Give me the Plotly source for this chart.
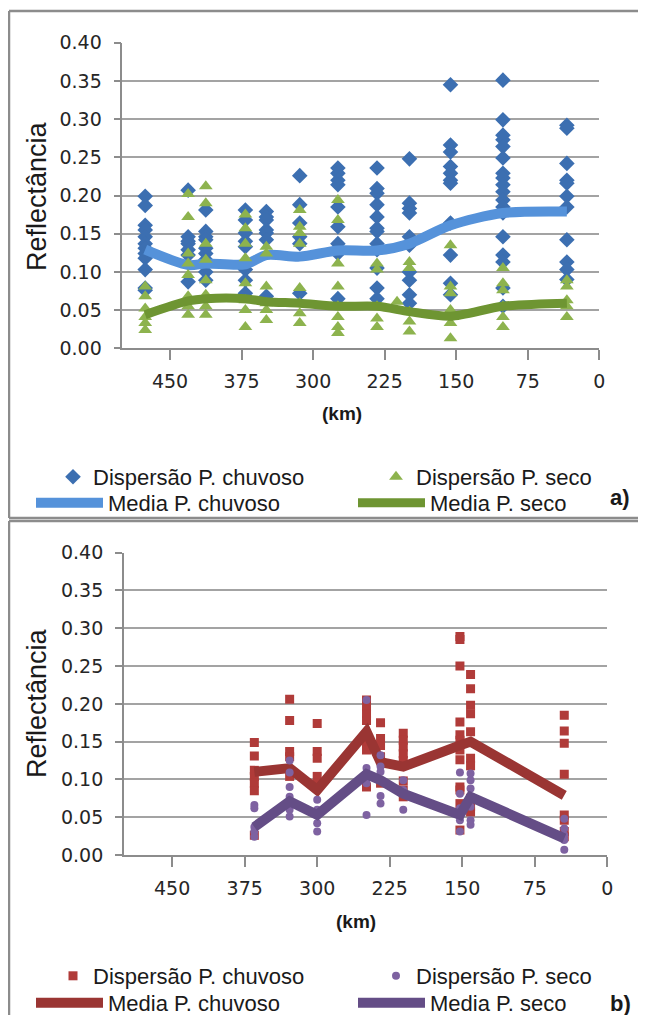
import plotly.graph_objects as go

# the page body adds an 8 px margin on every side; keep the figure inside the window
OFF = 8
W, H = 646 - 2 * OFF, 1023 - 2 * OFF

# ---------------- panel a) data ----------------
a_stations = [476, 431, 412.5, 371, 349, 314, 274, 233, 212, 199, 156, 101, 34]
a_chuvoso = [
    [0.199, 0.187, 0.161, 0.155, 0.146, 0.137, 0.131, 0.124, 0.118, 0.103, 0.079, 0.076],
    [0.207, 0.146, 0.140, 0.137, 0.129, 0.122, 0.087],
    [0.181, 0.153, 0.146, 0.142, 0.131, 0.124, 0.116, 0.100, 0.089],
    [0.181, 0.168, 0.151, 0.140, 0.133, 0.103, 0.089, 0.072],
    [0.179, 0.172, 0.168, 0.155, 0.151, 0.142, 0.068],
    [0.226, 0.188, 0.164, 0.146, 0.137, 0.072],
    [0.236, 0.229, 0.220, 0.214, 0.185, 0.159, 0.137, 0.124, 0.065],
    [0.236, 0.209, 0.203, 0.188, 0.172, 0.157, 0.153, 0.137, 0.129, 0.105, 0.079, 0.065],
    [],
    [0.248, 0.190, 0.183, 0.177, 0.146, 0.135, 0.100, 0.089, 0.070, 0.059],
    [0.345, 0.266, 0.257, 0.238, 0.229, 0.220, 0.216, 0.164, 0.122, 0.085, 0.070],
    [0.351, 0.299, 0.279, 0.273, 0.264, 0.249, 0.229, 0.223, 0.214, 0.205, 0.194, 0.185,
     0.177, 0.146, 0.122, 0.113, 0.079, 0.055],
    [0.292, 0.288, 0.242, 0.220, 0.216, 0.199, 0.185, 0.142, 0.113, 0.103, 0.090],
]
a_seco = [
    [0.081, 0.068, 0.052, 0.041, 0.033, 0.024],
    [0.202, 0.172, 0.124, 0.111, 0.096, 0.068, 0.055, 0.044],
    [0.212, 0.190, 0.137, 0.116, 0.089, 0.070, 0.055, 0.044],
    [0.175, 0.157, 0.137, 0.118, 0.085, 0.063, 0.050, 0.028],
    [0.133, 0.124, 0.081, 0.059, 0.050, 0.037],
    [0.181, 0.159, 0.151, 0.137, 0.079, 0.059, 0.046, 0.033],
    [0.194, 0.168, 0.111, 0.081, 0.055, 0.041, 0.028, 0.020],
    [0.111, 0.103, 0.055, 0.039, 0.028],
    [0.061],
    [0.113, 0.105, 0.048, 0.035, 0.022],
    [0.135, 0.081, 0.072, 0.050, 0.033, 0.013],
    [0.105, 0.085, 0.076, 0.055, 0.041, 0.028],
    [0.089, 0.081, 0.063, 0.055, 0.041],
]
a_mean_km = [476, 431, 412.5, 371, 349, 314, 274, 233, 199, 156, 101, 34]
a_mean_chuvoso = [0.129, 0.109, 0.111, 0.110, 0.122, 0.120, 0.128, 0.128, 0.137, 0.161, 0.177, 0.179]
a_mean_seco = [0.044, 0.062, 0.065, 0.065, 0.061, 0.059, 0.055, 0.055, 0.048, 0.042, 0.055, 0.059]

# ---------------- panel b) data ----------------
b_stations = [365, 328.5, 300, 249, 234.5, 211, 152.4, 141.4, 44.5]
b_chuvoso = [
    [0.149, 0.131, 0.112, 0.104, 0.095, 0.085, 0.026],
    [0.206, 0.178, 0.137, 0.130, 0.104],
    [0.174, 0.137, 0.128, 0.104, 0.095],
    [0.205, 0.196, 0.187, 0.178, 0.148, 0.139, 0.104, 0.090],
    [0.175, 0.154, 0.145, 0.130, 0.095],
    [0.161, 0.152, 0.143, 0.134, 0.125, 0.098, 0.086, 0.077],
    [0.289, 0.285, 0.250, 0.176, 0.159, 0.152, 0.139, 0.126, 0.090, 0.086, 0.068, 0.033],
    [0.239, 0.220, 0.198, 0.187, 0.163, 0.128, 0.118, 0.075, 0.064, 0.057],
    [0.185, 0.164, 0.148, 0.107, 0.053, 0.046, 0.031, 0.024],
]
b_seco = [
    [0.066, 0.062, 0.037, 0.031, 0.024],
    [0.125, 0.109, 0.090, 0.077, 0.064, 0.060, 0.051],
    [0.073, 0.060, 0.042, 0.031],
    [0.205, 0.115, 0.104, 0.095, 0.053],
    [0.132, 0.117, 0.110, 0.078, 0.068],
    [0.099, 0.086, 0.060],
    [0.109, 0.081, 0.062, 0.055, 0.046, 0.031],
    [0.108, 0.099, 0.088, 0.064, 0.046, 0.040],
    [0.048, 0.035, 0.026, 0.020, 0.007],
]
b_mean_chuvoso = [0.110, 0.115, 0.086, 0.163, 0.123, 0.117, 0.145, 0.150, 0.079]
b_mean_seco = [0.037, 0.071, 0.053, 0.107, 0.099, 0.081, 0.053, 0.077, 0.022]

x_ticks = [450, 375, 300, 225, 150, 75, 0]
y_ticks = [0.00, 0.05, 0.10, 0.15, 0.20, 0.25, 0.30, 0.35, 0.40]

LEG_CHUV = "Dispersão P. chuvoso"
LEG_SECO = "Dispersão P. seco"
LEG_MCHUV = "Media P. chuvoso"
LEG_MSECO = "Media P. seco"


def px(x):
    """window pixel x -> paper fraction"""
    return (x - OFF) / W


def py(y):
    """window pixel y -> paper fraction"""
    return 1 - (y - OFF) / H


def flatten(stations, groups):
    xs, ys = [], []
    for s, vals in zip(stations, groups):
        for v in vals:
            xs.append(s)
            ys.append(v)
    return xs, ys


fig = go.Figure()

# ---- panel a ----
x, y = flatten(a_stations, a_chuvoso)
fig.add_trace(go.Scatter(x=x, y=y, mode="markers", name=LEG_CHUV, legend="legend",
                         marker=dict(symbol="diamond", size=12, color="#3C6FB1"),
                         xaxis="x", yaxis="y"))
fig.add_trace(go.Scatter(x=a_mean_km, y=a_mean_chuvoso, mode="lines", name=LEG_MCHUV,
                         legend="legend3", line=dict(color="#5592DA", width=10, shape="spline", smoothing=0.8),
                         xaxis="x", yaxis="y"))
x, y = flatten(a_stations, a_seco)
fig.add_trace(go.Scatter(x=x, y=y, mode="markers", name=LEG_SECO, legend="legend2",
                         marker=dict(symbol="triangle-up", size=12, color="#8DB34E"),
                         xaxis="x", yaxis="y"))
fig.add_trace(go.Scatter(x=a_mean_km, y=a_mean_seco, mode="lines", name=LEG_MSECO,
                         legend="legend4", line=dict(color="#6E9532", width=9, shape="spline", smoothing=0.8),
                         xaxis="x", yaxis="y"))

# ---- panel b ----
x, y = flatten(b_stations, b_chuvoso)
fig.add_trace(go.Scatter(x=x, y=y, mode="markers", name=LEG_CHUV, legend="legend5",
                         marker=dict(symbol="square", size=9, color="#B03B39"),
                         xaxis="x2", yaxis="y2"))
fig.add_trace(go.Scatter(x=b_stations, y=b_mean_chuvoso, mode="lines", name=LEG_MCHUV,
                         legend="legend7", line=dict(color="#9A3533", width=10),
                         xaxis="x2", yaxis="y2"))
x, y = flatten(b_stations, b_seco)
fig.add_trace(go.Scatter(x=x, y=y, mode="markers", name=LEG_SECO, legend="legend6",
                         marker=dict(symbol="circle", size=8, color="#7E62A1"),
                         xaxis="x2", yaxis="y2"))
fig.add_trace(go.Scatter(x=b_stations, y=b_mean_seco, mode="lines", name=LEG_MSECO,
                         legend="legend8", line=dict(color="#644D86", width=10),
                         xaxis="x2", yaxis="y2"))

AX = "#8C8C8C"
GRID = "#A3A3A3"
tickfont = dict(family="DejaVu Sans", size=19, color="#262626")


def xax(domain, anchor):
    return dict(domain=domain, anchor=anchor, range=[500, 0], tickmode="array",
                tickvals=x_ticks, ticktext=[str(v) for v in x_ticks],
                ticks="outside", ticklen=10, tickwidth=1.5, tickcolor=AX,
                showline=True, linecolor=AX, linewidth=1.5, showgrid=False,
                zeroline=False, tickfont=tickfont, ticklabelstandoff=5, fixedrange=True,
                automargin=False)


def yax(domain, anchor):
    return dict(domain=domain, anchor=anchor, range=[0, 0.40], tickmode="array",
                tickvals=y_ticks, ticktext=["%.2f" % v for v in y_ticks],
                ticks="outside", ticklen=7, tickwidth=1.5, tickcolor=AX,
                showline=True, linecolor=AX, linewidth=1.5, showgrid=True,
                gridcolor=GRID, gridwidth=1.6, zeroline=False, tickfont=tickfont,
                ticklabelstandoff=8, fixedrange=True, automargin=False)


legfont = dict(family="Liberation Sans", size=22, color="#1A1A1A")


def leg(xpx, ypx, itemwidth):
    return dict(x=px(xpx), y=py(ypx), xanchor="left", yanchor="middle", orientation="h",
                font=legfont, bgcolor="rgba(0,0,0,0)", itemwidth=itemwidth,
                borderwidth=0, itemclick=False, itemdoubleclick=False)


def frame_line(x0, y0, x1, y1):
    return dict(type="line", xref="paper", yref="paper", x0=x0, y0=y0, x1=x1, y1=y1,
                line=dict(color=AX, width=2.5), layer="below")


fig.update_layout(
    width=W, height=H,
    margin=dict(l=0, r=0, t=0, b=0, autoexpand=False),
    paper_bgcolor="white", plot_bgcolor="white",
    showlegend=True,
    xaxis=xax([px(122.3), px(599.3)], "y"),
    yaxis=yax([py(348.3), py(42.7)], "x"),
    xaxis2=xax([px(123.8), px(607.3)], "y2"),
    yaxis2=yax([py(855), py(552.7)], "x2"),
    legend=leg(53, 477, 30),
    legend2=leg(376, 477, 30),
    legend3=leg(31, 503, 67),
    legend4=leg(353, 503, 67),
    legend5=leg(53, 976, 30),
    legend6=leg(376, 976, 30),
    legend7=leg(31, 1003, 67),
    legend8=leg(353, 1003, 67),
    shapes=[
        # panel a frame (left, top, bottom)
        frame_line(px(9), py(11), px(9), py(518)),
        frame_line(px(9), py(11), 1.0, py(11)),
        frame_line(px(9), py(518), 1.0, py(518)),
        # panel b frame (left, top)
        frame_line(px(9), py(521), px(9), 0.0),
        frame_line(px(9), py(521), 1.0, py(521)),
    ],
    annotations=[
        dict(text="Reflectância", textangle=-90, xref="paper", yref="paper",
             x=px(37), y=py(196), showarrow=False, xanchor="center", yanchor="middle",
             font=dict(family="Liberation Sans", size=27, color="#1A1A1A")),
        dict(text="Reflectância", textangle=-90, xref="paper", yref="paper",
             x=px(37), y=py(703), showarrow=False, xanchor="center", yanchor="middle",
             font=dict(family="Liberation Sans", size=27, color="#1A1A1A")),
        dict(text="<b>(km)</b>", xref="paper", yref="paper", x=px(342), y=py(413),
             showarrow=False, xanchor="center", yanchor="middle",
             font=dict(family="Liberation Sans", size=19, color="#1A1A1A")),
        dict(text="<b>(km)</b>", xref="paper", yref="paper", x=px(356), y=py(921),
             showarrow=False, xanchor="center", yanchor="middle",
             font=dict(family="Liberation Sans", size=19, color="#1A1A1A")),
        dict(text="<b>a)</b>", xref="paper", yref="paper", x=px(620), y=py(497),
             showarrow=False, xanchor="center", yanchor="middle",
             font=dict(family="Liberation Sans", size=22, color="#1A1A1A")),
        dict(text="<b>b)</b>", xref="paper", yref="paper", x=px(620), y=py(1003),
             showarrow=False, xanchor="center", yanchor="middle",
             font=dict(family="Liberation Sans", size=22, color="#1A1A1A")),
    ],
)

fig.write_html("out.html", config={"displayModeBar": False})
